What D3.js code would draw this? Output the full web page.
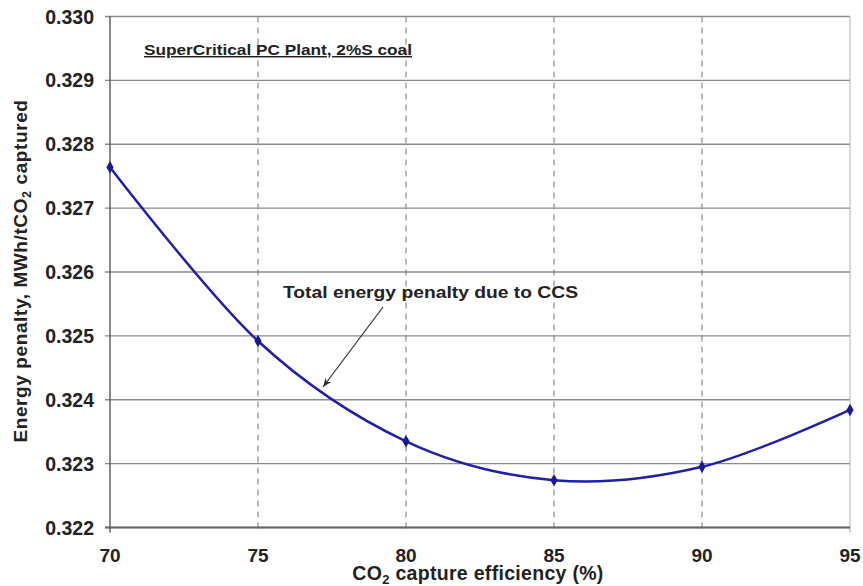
<!DOCTYPE html>
<html><head><meta charset="utf-8">
<script src="https://cdn.jsdelivr.net/npm/d3@7"></script>
<style>
html,body{margin:0;padding:0;background:#fff;}
svg{display:block;font-family:"Liberation Sans",Arial,sans-serif;}
</style></head>
<body>
<svg id="chart" width="863" height="586"></svg>
<script>
const captureEfficiency = [70, 75, 80, 85, 90, 95];
const energyPenalty = [0.32764, 0.32492, 0.32335, 0.32274, 0.32295, 0.32384];
const xTicks = [70, 75, 80, 85, 90, 95];
const yTicks = [0.322, 0.323, 0.324, 0.325, 0.326, 0.327, 0.328, 0.329, 0.330];

const svg = d3.select("#chart");
const L = 110, R = 850, T = 16.5, B = 527.5;
const x = d3.scaleLinear().domain([70, 95]).range([L, R]);
const y = d3.scaleLinear().domain([0.322, 0.330]).range([B, T]);

// horizontal gridlines
svg.append("g").selectAll("line").data(yTicks).join("line")
  .attr("x1", L - 5).attr("x2", R).attr("y1", d => y(d)).attr("y2", d => y(d))
  .attr("stroke", "#8a8a8a").attr("stroke-width", 1.3);

// vertical dashed gridlines
svg.append("g").selectAll("line").data(xTicks.filter(d => d > 70 && d < 95)).join("line")
  .attr("x1", d => x(d)).attr("x2", d => x(d)).attr("y1", T).attr("y2", B + 5)
  .attr("stroke", "#8a8a8a").attr("stroke-width", 1.2).attr("stroke-dasharray", "6,5");

// right border
svg.append("line").attr("x1", R).attr("x2", R).attr("y1", T).attr("y2", B + 5)
  .attr("stroke", "#b0b0b0").attr("stroke-width", 1);

// axes
svg.append("line").attr("x1", L).attr("x2", L).attr("y1", T).attr("y2", B + 5)
  .attr("stroke", "#555").attr("stroke-width", 1.4);
svg.append("line").attr("x1", L - 5).attr("x2", R).attr("y1", B).attr("y2", B)
  .attr("stroke", "#666").attr("stroke-width", 1.8);

// y tick labels
svg.append("g").selectAll("text").data(yTicks).join("text")
  .attr("x", 94).attr("y", d => y(d) + 7)
  .attr("text-anchor", "end").attr("font-weight", "bold").attr("font-size", 19.5)
  .attr("fill", "#222").text(d => d3.format(".3f")(d));

// x tick labels
svg.append("g").selectAll("text").data(xTicks).join("text")
  .attr("x", d => x(d)).attr("y", 562)
  .attr("text-anchor", "middle").attr("font-weight", "bold").attr("font-size", 19)
  .attr("fill", "#222").text(d => d);

// x axis title
const xt = svg.append("text").attr("x", 478).attr("y", 580).attr("text-anchor", "middle")
  .attr("font-weight", "bold").attr("font-size", 19.5).attr("fill", "#222")
  .attr("letter-spacing", 0.3);
xt.append("tspan").text("CO");
xt.append("tspan").attr("font-size", 13).attr("dy", 4).text("2");
xt.append("tspan").attr("dy", -4).text(" capture efficiency (%)");

// y axis title
const yt = svg.append("text").attr("transform", "translate(26.5,271) rotate(-90)")
  .attr("text-anchor", "middle").attr("font-weight", "bold").attr("font-size", 19).attr("fill", "#222")
  .attr("letter-spacing", 0.6);
yt.append("tspan").text("Energy penalty, MWh/tCO");
yt.append("tspan").attr("font-size", 12.5).attr("dy", 4).text("2");
yt.append("tspan").attr("dy", -4).text(" captured");

// line
const pts = captureEfficiency.map((c, i) => [c, energyPenalty[i]]);
const line = d3.line().x(d => x(d[0])).y(d => y(d[1])).curve(d3.curveCatmullRom.alpha(0));
svg.append("path").attr("d", line(pts)).attr("fill", "none")
  .attr("stroke", "#1f1fa8").attr("stroke-width", 2.5);

// markers
svg.append("g").selectAll("path").data(pts).join("path")
  .attr("d", d3.symbol().type(d3.symbolDiamond).size(45))
  .attr("transform", d => `translate(${x(d[0])},${y(d[1])})`)
  .attr("fill", "#1a1a99");

// annotation subtitle
svg.append("text").attr("x", 144).attr("y", 55)
  .attr("font-weight", "bold").attr("font-size", 14.5).attr("fill", "#222")
  .attr("text-decoration", "underline")
  .attr("textLength", 268).attr("lengthAdjust", "spacingAndGlyphs")
  .text("SuperCritical PC Plant, 2%S coal");

// annotation label
svg.append("text").attr("x", 283).attr("y", 298)
  .attr("font-weight", "bold").attr("font-size", 17).attr("fill", "#222")
  .attr("textLength", 295).attr("lengthAdjust", "spacingAndGlyphs")
  .text("Total energy penalty due to CCS");

// arrow
svg.append("defs").append("marker").attr("id", "ah")
  .attr("viewBox", "0 0 10 10").attr("refX", 10).attr("refY", 5)
  .attr("markerWidth", 9).attr("markerHeight", 9).attr("markerUnits", "userSpaceOnUse")
  .attr("orient", "auto")
  .append("path").attr("d", "M0,1 L10,5 L0,9 L3,5 Z").attr("fill", "#333");
svg.append("line").attr("x1", 383).attr("y1", 307).attr("x2", 323).attr("y2", 387)
  .attr("stroke", "#333").attr("stroke-width", 1.2).attr("marker-end", "url(#ah)");
</script>
</body></html>
